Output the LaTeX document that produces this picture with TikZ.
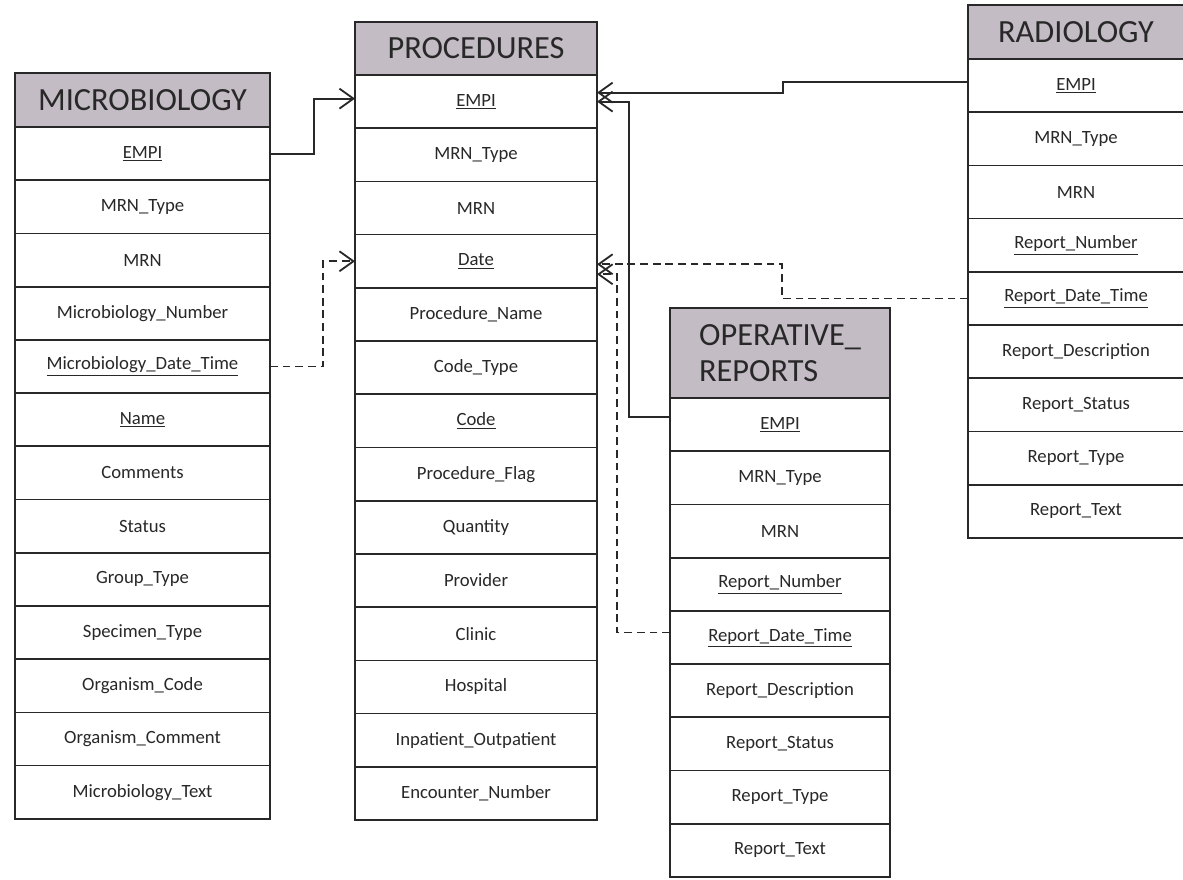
\documentclass[tikz,border=0pt]{standalone}
\usepackage{fontspec}
\setmainfont{Carlito}
\usetikzlibrary{arrows.meta, positioning, calc}
\definecolor{headgrey}{RGB}{196,188,196}
\definecolor{inkgrey}{RGB}{40,40,40}

\begin{document}
\begin{tikzpicture}[
    x=0.025cm, y=-0.025cm,
    node distance=0pt,
    header/.style={
        rectangle,
        draw=inkgrey,
        line width=1.2pt,
        fill=headgrey,
        anchor=north west,
        inner sep=0pt,
        outer sep=0pt,
        text=inkgrey,
        font=\fontsize{23}{25.5}\selectfont
    },
    field/.style={
        rectangle,
        draw=inkgrey,
        line width=1.2pt,
        fill=white,
        minimum height=1.33cm,
        inner sep=0pt,
        outer sep=0pt,
        text=inkgrey,
        font=\fontsize{13.3}{15}\selectfont
    },
    microfield/.style={field, minimum width=6.375cm},
    procfield/.style={field, minimum width=6.05cm},
    radfield/.style={field, minimum width=5.4cm},
    operfield/.style={field, minimum width=5.5cm},
    link/.style={
        draw=inkgrey,
        line width=1.3pt,
        -{Straight Barb[length=3.5mm,width=5mm]}
    },
    fklink/.style={link, dash pattern=on 5.5pt off 3.5pt}
]
    \useasboundingbox (0,0) rectangle (1183,880);

    % --- Microbiology table ---
    \node [header, minimum width=6.375cm, minimum height=1.35cm] (micro-h) at (15,73) {MICROBIOLOGY\hspace{8pt}};
    \node [microfield, below=of micro-h] (micro-1) {\underline{EMPI}};
    \node [microfield, below=of micro-1] (micro-2) {MRN\_Type};
    \node [microfield, below=of micro-2] (micro-3) {MRN};
    \node [microfield, below=of micro-3] (micro-4) {Microbiology\_Number};
    \node [microfield, below=of micro-4] (micro-5) {\underline{Microbiology\_Date\_Time}};
    \node [microfield, below=of micro-5] (micro-6) {\underline{Name}};
    \node [microfield, below=of micro-6] (micro-7) {Comments};
    \node [microfield, below=of micro-7] (micro-8) {Status};
    \node [microfield, below=of micro-8] (micro-9) {Group\_Type};
    \node [microfield, below=of micro-9] (micro-10) {Specimen\_Type};
    \node [microfield, below=of micro-10] (micro-11) {Organism\_Code};
    \node [microfield, below=of micro-11] (micro-12) {Organism\_Comment};
    \node [microfield, below=of micro-12] (micro-13) {Microbiology\_Text};

    % --- Procedures table ---
    \node [header, minimum width=6.05cm, minimum height=1.325cm] (proc-h) at (355,22) {PROCEDURES};
    \node [procfield, below=of proc-h] (proc-1) {\underline{EMPI}};
    \node [procfield, below=of proc-1] (proc-2) {MRN\_Type};
    \node [procfield, below=of proc-2] (proc-3) {MRN};
    \node [procfield, below=of proc-3] (proc-4) {\underline{Date}};
    \node [procfield, below=of proc-4] (proc-5) {Procedure\_Name};
    \node [procfield, below=of proc-5] (proc-6) {Code\_Type};
    \node [procfield, below=of proc-6] (proc-7) {\underline{Code}};
    \node [procfield, below=of proc-7] (proc-8) {Procedure\_Flag};
    \node [procfield, below=of proc-8] (proc-9) {Quantity};
    \node [procfield, below=of proc-9] (proc-10) {Provider};
    \node [procfield, below=of proc-10] (proc-11) {Clinic};
    \node [procfield, below=of proc-11] (proc-12) {Hospital};
    \node [procfield, below=of proc-12] (proc-13) {Inpatient\_Outpatient};
    \node [procfield, below=of proc-13] (proc-14) {Encounter\_Number};

    % --- Radiology table ---
    \node [header, minimum width=5.4cm, minimum height=1.35cm] (rad-h) at (968,5) {RADIOLOGY};
    \node [radfield, below=of rad-h] (rad-1) {\underline{EMPI}};
    \node [radfield, below=of rad-1] (rad-2) {MRN\_Type};
    \node [radfield, below=of rad-2] (rad-3) {MRN};
    \node [radfield, below=of rad-3] (rad-4) {\underline{Report\_Number}};
    \node [radfield, below=of rad-4] (rad-5) {\underline{Report\_Date\_Time}};
    \node [radfield, below=of rad-5] (rad-6) {Report\_Description};
    \node [radfield, below=of rad-6] (rad-7) {Report\_Status};
    \node [radfield, below=of rad-7] (rad-8) {Report\_Type};
    \node [radfield, below=of rad-8] (rad-9) {Report\_Text};

    % --- Operative reports table ---
    \node [header, minimum width=5.5cm, minimum height=2.25cm, align=left] (oper-h) at (670,308) {OPERATIVE\_\\REPORTS};
    \node [operfield, below=of oper-h] (oper-1) {\underline{EMPI}};
    \node [operfield, below=of oper-1] (oper-2) {MRN\_Type};
    \node [operfield, below=of oper-2] (oper-3) {MRN};
    \node [operfield, below=of oper-3] (oper-4) {\underline{Report\_Number}};
    \node [operfield, below=of oper-4] (oper-5) {\underline{Report\_Date\_Time}};
    \node [operfield, below=of oper-5] (oper-6) {Report\_Description};
    \node [operfield, below=of oper-6] (oper-7) {Report\_Status};
    \node [operfield, below=of oper-7] (oper-8) {Report\_Type};
    \node [operfield, below=of oper-8] (oper-9) {Report\_Text};

    % --- Connections ---
    % EMPI keys
    \draw [link] (micro-1.east) -- ++(44,0) |- ($(proc-1.west)+(0,-3)$);
    \draw [link] ($(rad-1.west)+(0,-4)$) -- ++(-185,0) |- ($(proc-1.east)+(0,-9)$);
    \draw [link] ($(oper-1.west)+(0,-8)$) -- ++(-41,0) |- (proc-1.east);

    % date links
    \draw [fklink] (micro-5.east) -- ++(53,0) |- (proc-4.west);
    \draw [fklink] (rad-5.west) -- ++(-186,0) |- ($(proc-4.east)+(0,3)$);
    \draw [fklink] ($(oper-5.west)+(0,-5)$) -- ++(-53,0) |- ($(proc-4.east)+(0,13)$);

\end{tikzpicture}
\end{document}
